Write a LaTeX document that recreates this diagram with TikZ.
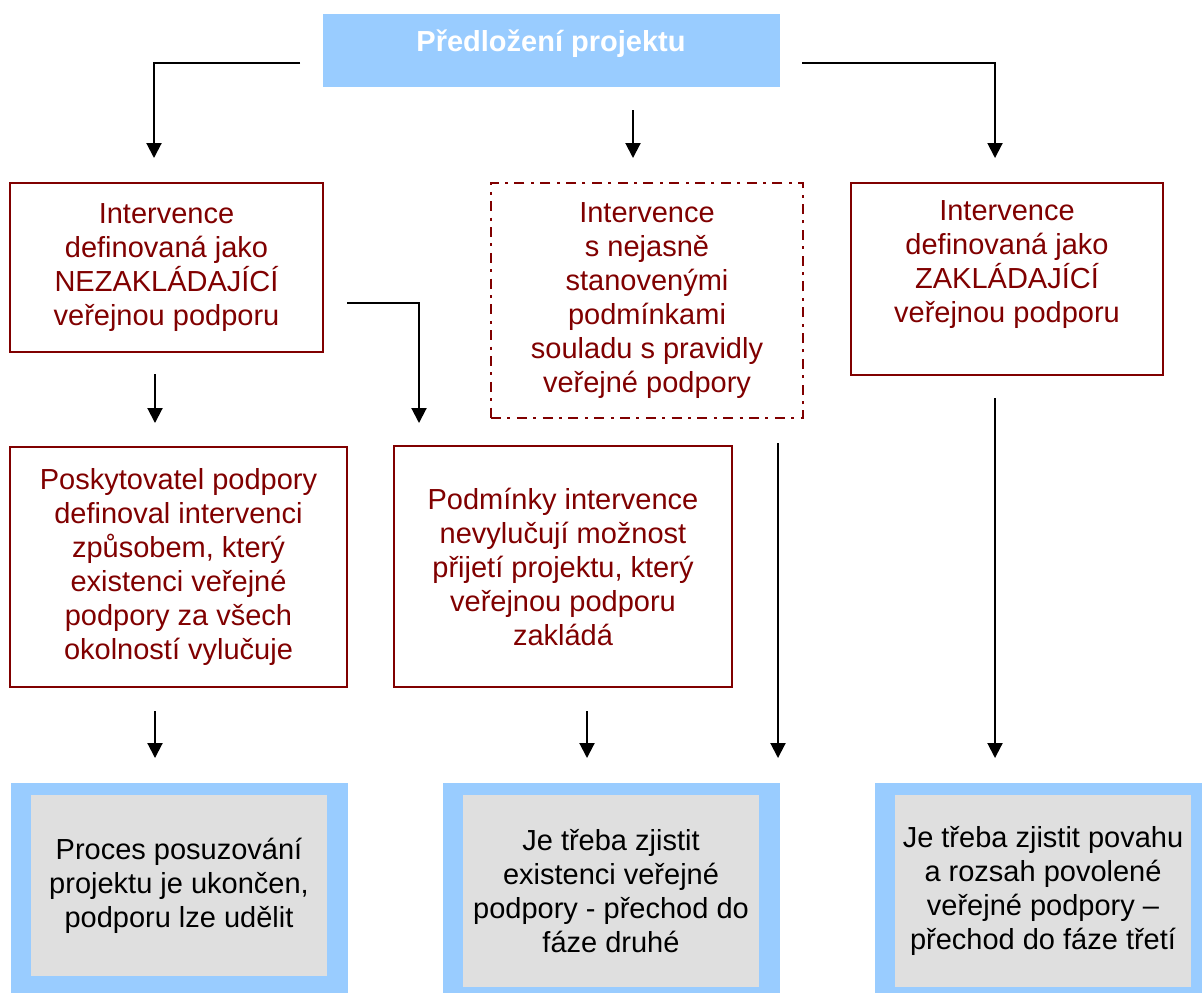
\documentclass[tikz,border=0pt]{standalone}
\usepackage{fontspec}
\setmainfont{Liberation Sans}
\usetikzlibrary{arrows.meta}
\definecolor{dred}{RGB}{128,0,0}
\definecolor{lblue}{RGB}{153,204,255}
\definecolor{lgray}{RGB}{223,223,223}
\begin{document}
\begin{tikzpicture}[x=0.5pt,y=-0.5pt,
  txt/.style={font=\fontsize{14.5}{17}\selectfont, align=center, inner sep=0pt},
  redbox/.style={txt, draw=dred, line width=1.2pt, text=dred},
  dashbox/.style={redbox, dash pattern=on 5pt off 3.2pt on 1.5pt off 3.2pt},
  outerbox/.style={fill=lblue, inner sep=0pt},
  innerbox/.style={txt, fill=lgray, text=black},
  conn/.style={line width=1pt, -{Triangle[width=7.5pt,length=7.5pt]}},
]
\useasboundingbox (0,0) rectangle (1202,993);

% top box
\node[outerbox, minimum width=228.5pt, minimum height=36.5pt] (top) at (551,50.5) {};
\node[txt, text=white, font=\fontsize{14.5}{17}\selectfont\bfseries] (toptxt) at (551,44) {Předložení projektu};

% row 2
\node[redbox, minimum width=156.5pt, minimum height=84.5pt] (b1) at (166.5,267.5)
  {Intervence\\definovaná jako\\NEZAKLÁDAJÍCÍ\\veřejnou podporu};
\node[dashbox, minimum width=156pt, minimum height=117.5pt] (b2) at (647,300.5)
  {Intervence\\s nejasně\\stanovenými\\podmínkami\\souladu s pravidly\\veřejné podpory};
\node[redbox, minimum width=156pt, minimum height=96pt] (b3) at (1007,279) {};
\node[txt, text=dred] (b3txt) at (1007,265)
  {Intervence\\definovaná jako\\ZAKLÁDAJÍCÍ\\veřejnou podporu};

% row 3
\node[redbox, minimum width=168.5pt, minimum height=120pt] (c1) at (178.5,567)
  {Poskytovatel podpory\\definoval intervenci\\způsobem, který\\existenci veřejné\\podpory za všech\\okolností vylučuje};
\node[redbox, minimum width=169pt, minimum height=120.5pt] (c2) at (563,566.5)
  {Podmínky intervence\\nevylučují možnost\\přijetí projektu, který\\veřejnou podporu\\zakládá};

% bottom row
\node[outerbox, minimum width=168.5pt, minimum height=105pt] (d1o) at (179.5,888) {};
\node[innerbox, minimum width=148pt, minimum height=90.5pt] (d1) at (179,885.5)
  {Proces posuzování\\projektu je ukončen,\\podporu lze udělit};
\node[outerbox, minimum width=168.5pt, minimum height=105pt] (d2o) at (611.5,888) {};
\node[innerbox, minimum width=148pt, minimum height=96pt] (d2) at (611,891)
  {Je třeba zjistit\\existenci veřejné\\podpory - přechod do\\fáze druhé};
\node[outerbox, minimum width=163.5pt, minimum height=105pt] (d3o) at (1038.5,888) {};
\node[innerbox, minimum width=148pt, minimum height=96pt] (d3) at (1043,891)
  {Je třeba zjistit povahu\\a rozsah povolené\\veřejné podpory –\\přechod do fáze třetí};

% connector endpoints
\coordinate (a1s) at (300,63);   \coordinate (a1e) at (154,158);
\coordinate (a2s) at (633,110);  \coordinate (a2e) at (633,158);
\coordinate (a3s) at (802,63);   \coordinate (a3e) at (995,158);
\coordinate (a4s) at (155,374);  \coordinate (a4e) at (155,423);
\coordinate (a5s) at (347,303);  \coordinate (a5e) at (419,423);
\coordinate (a6s) at (778,443);  \coordinate (a6e) at (778,758);
\coordinate (a7s) at (995,398);  \coordinate (a7e) at (995,758);
\coordinate (a8s) at (155,711);  \coordinate (a8e) at (155,758);
\coordinate (a9s) at (587,711);  \coordinate (a9e) at (587,758);

\draw[conn] (a1s) -| (a1e);
\draw[conn] (a2s) -- (a2e);
\draw[conn] (a3s) -| (a3e);
\draw[conn] (a4s) -- (a4e);
\draw[conn] (a5s) -| (a5e);
\draw[conn] (a6s) -- (a6e);
\draw[conn] (a7s) -- (a7e);
\draw[conn] (a8s) -- (a8e);
\draw[conn] (a9s) -- (a9e);
\end{tikzpicture}
\end{document}
